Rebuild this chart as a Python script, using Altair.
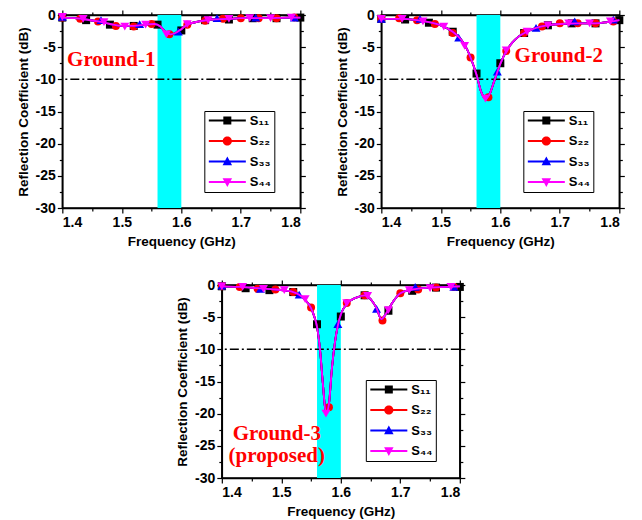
import altair as alt
import pandas as pd

SERIES = ["S₁₁", "S₂₂", "S₃₃", "S₄₄"]
COLORS = ["#000000", "#FF0000", "#0000FF", "#FF00FF"]
SHAPES = ["square", "circle", "triangle-up", "triangle-down"]

BAND = [1.56, 1.60]
THRESHOLD = [-10]
X_TICKS = [1.4, 1.45, 1.5, 1.55, 1.6, 1.65, 1.7, 1.75, 1.8]
Y_TICKS = [-30, -27.5, -25, -22.5, -20, -17.5, -15, -12.5, -10, -7.5, -5, -2.5, 0]

# marker frequencies of each series
F11 = [1.40, 1.44, 1.48, 1.52, 1.56, 1.60, 1.64, 1.68, 1.72, 1.76, 1.80]
F22 = [1.40, 1.43, 1.46, 1.49, 1.52, 1.55, 1.58, 1.61, 1.64, 1.67, 1.70, 1.73, 1.76, 1.79]
F33 = [1.40, 1.465, 1.53, 1.595, 1.66, 1.725, 1.79]
F44 = [1.40, 1.435, 1.47, 1.505, 1.54, 1.575, 1.61, 1.645, 1.68, 1.715, 1.75, 1.785]

# ---- Ground-1
G1_CURVE_F = [1.40, 1.42, 1.44, 1.46, 1.48, 1.50, 1.52, 1.54, 1.555, 1.565, 1.575, 1.582, 1.59, 1.60, 1.61, 1.63, 1.65, 1.68, 1.70, 1.74, 1.78, 1.80]
G1_CURVE_V = [-0.4, -0.5, -0.7, -1.0, -1.4, -1.7, -1.7, -1.5, -1.4, -1.8, -2.8, -3.0, -2.8, -2.2, -1.5, -1.0, -0.7, -0.6, -0.5, -0.5, -0.4, -0.4]
G1_S11 = [-0.4, -0.8, -1.5, -1.7, -1.5, -2.4, -0.8, -0.7, -0.5, -0.5, -0.4]
G1_S22 = [-0.4, -0.6, -1.0, -1.7, -1.8, -1.4, -3.0, -1.5, -0.9, -0.6, -0.5, -0.5, -0.5, -0.4]
G1_S33 = [-0.3, -0.8, -1.4, -2.6, -0.5, -0.4, -0.4]
G1_S44 = [-0.3, -0.6, -1.1, -1.8, -1.5, -3.0, -1.4, -0.8, -0.6, -0.5, -0.5, -0.4]

# ---- Ground-2
G2_CURVE_F = [1.40, 1.43, 1.46, 1.48, 1.50, 1.52, 1.53, 1.54, 1.55, 1.56, 1.568, 1.575, 1.582, 1.59, 1.60, 1.61, 1.62, 1.63, 1.645, 1.66, 1.68, 1.70, 1.73, 1.76, 1.78, 1.80]
G2_CURVE_V = [-0.6, -0.6, -0.8, -1.1, -1.6, -2.6, -3.4, -4.6, -6.6, -9.3, -12.0, -13.0, -12.3, -10.2, -7.6, -5.6, -4.3, -3.4, -2.6, -2.0, -1.6, -1.4, -1.3, -1.3, -1.1, -0.8]
G2_S11 = [-0.6, -0.7, -1.2, -2.6, -9.1, -7.5, -2.8, -1.6, -1.3, -1.3, -0.8]
G2_S22 = [-0.6, -0.5, -0.8, -1.4, -2.8, -6.6, -12.8, -5.6, -2.8, -1.8, -1.3, -1.3, -1.3, -1.0]
G2_S33 = [-0.6, -0.6, -3.5, -8.8, -2.0, -1.0, -0.7]
G2_S44 = [-0.6, -0.6, -1.0, -1.8, -4.8, -13.0, -5.5, -2.6, -1.6, -1.3, -1.3, -1.0]

# ---- Ground-3 (proposed)
G3_CURVE_F = [1.40, 1.43, 1.46, 1.49, 1.51, 1.52, 1.53, 1.54, 1.55, 1.555, 1.56, 1.565, 1.57, 1.575, 1.58, 1.585, 1.59, 1.595, 1.60, 1.61, 1.625, 1.64, 1.65, 1.66, 1.668, 1.675, 1.685, 1.70, 1.72, 1.75, 1.78, 1.80]
G3_CURVE_V = [-0.2, -0.3, -0.5, -0.7, -0.9, -1.1, -1.5, -2.3, -3.6, -4.8, -6.5, -10.0, -15.5, -20.0, -18.5, -13.0, -9.0, -6.3, -4.6, -2.9, -2.0, -1.6, -2.2, -3.6, -5.3, -4.6, -3.0, -1.3, -0.7, -0.4, -0.3, -0.2]
G3_S11 = [-0.2, -0.5, -0.8, -1.1, -6.1, -4.9, -1.6, -4.0, -0.9, -0.4, -0.3]
G3_S22 = [-0.2, -0.3, -0.6, -0.7, -1.1, -3.5, -19.0, -2.8, -1.6, -5.5, -1.3, -0.7, -0.4, -0.3]
G3_S33 = [-0.1, -0.6, -1.5, -6.1, -3.7, -0.3, -0.3]
G3_S44 = [-0.2, -0.3, -0.6, -0.8, -2.2, -20.0, -2.8, -1.7, -3.9, -0.8, -0.5, -0.3]

# legend symbols: a line with the marker in the middle (unit = 5 px)
LEGEND_PATHS = [
    "M-3.7,-0.2L3.7,-0.2L3.7,0.2L-3.7,0.2Z M-0.8,-0.8L0.8,-0.8L0.8,0.8L-0.8,0.8Z",
    "M-3.7,-0.2L3.7,-0.2L3.7,0.2L-3.7,0.2Z M-0.92,0A0.92,0.92,0,1,1,0.92,0A0.92,0.92,0,1,1,-0.92,0Z",
    "M-3.7,-0.2L3.7,-0.2L3.7,0.2L-3.7,0.2Z M0,-1.0L0.95,0.75L-0.95,0.75Z",
    "M-3.7,-0.2L3.7,-0.2L3.7,0.2L-3.7,0.2Z M0,1.0L-0.95,-0.75L0.95,-0.75Z",
]

X_MAJOR = "abs(datum.value*10 - round(datum.value*10)) < 0.001"
Y_MAJOR = "abs(datum.value % 5) < 0.001"
BOLD = "Liberation Sans"


def x_axis(orient, labels, title):
    kw = dict(orient=orient, values=X_TICKS, labels=labels, grid=False,
              tickSize={"condition": {"test": X_MAJOR, "value": 5}, "value": 3},
              title=title)
    if labels:
        kw["labelExpr"] = f"({X_MAJOR}) ? format(datum.value, '.1f') : ''"
    return alt.Axis(**kw)


def y_axis(orient, labels, title):
    kw = dict(orient=orient, values=Y_TICKS, labels=labels, grid=False,
              tickSize={"condition": {"test": Y_MAJOR, "value": 5}, "value": 3},
              title=title)
    if labels:
        kw["labelExpr"] = f"({Y_MAJOR}) ? '' + datum.value : ''"
    return alt.Axis(**kw)


def panel(curve_f, curve_v, marks, text, tx, ty, lx, ly):
    xs = alt.Scale(domain=[1.4, 1.8], nice=False, zero=False)
    ys = alt.Scale(domain=[-30, 0], nice=False, zero=False)

    band = alt.Chart(pd.DataFrame({"a": [BAND[0]], "b": [BAND[1]]})).mark_rect(
        color="#00FFFF", opacity=1).encode(
        x=alt.X("a:Q", scale=xs, axis=x_axis("top", False, None)), x2="b:Q")

    thr = alt.Chart(pd.DataFrame({"v": THRESHOLD})).mark_rule(
        color="black", strokeWidth=1.5, strokeDash=[9, 3, 2, 3]).encode(
        y=alt.Y("v:Q", scale=ys, axis=y_axis("right", False, None)))

    curve = pd.DataFrame({"f": curve_f, "v": curve_v})
    layers = [band, thr]
    freqs = [F11, F22, F33, F44]
    for i, (c, sh) in enumerate(zip(COLORS, SHAPES)):
        xa = x_axis("bottom", True, "Frequency (GHz)") if i == 0 else None
        ya = y_axis("left", True, "Reflection Coefficient (dB)") if i == 0 else None
        line = alt.Chart(curve).mark_line(color=c, strokeWidth=1.8, interpolate="monotone").encode(
            x=alt.X("f:Q", scale=xs, axis=xa), y=alt.Y("v:Q", scale=ys, axis=ya))
        pts = alt.Chart(pd.DataFrame({"f": freqs[i], "v": marks[i]})).mark_point(
            shape=sh, filled=True, size=64 if sh in ("square", "circle") else 80,
            color=c, opacity=1).encode(
            x=alt.X("f:Q", scale=xs, axis=None), y=alt.Y("v:Q", scale=ys, axis=None))
        layers += [line, pts]

    lab = alt.Chart(pd.DataFrame({"f": [tx], "v": [ty], "t": [text]})).mark_text(
        font="Liberation Serif", fontWeight="bold", fontSize=21, color="#FF0000",
        align="left" if "\n" not in text else "center", baseline="alphabetic",
        lineBreak="\n", lineHeight=22).encode(
        x=alt.X("f:Q", scale=xs, axis=None), y=alt.Y("v:Q", scale=ys, axis=None), text="t:N")
    layers.append(lab)

    leg = alt.Legend(orient="none", legendX=lx, legendY=ly, title=None,
                     labelFont=BOLD, labelFontWeight="bold", labelFontSize=13,
                     labelColor="black", strokeColor="black", fillColor="white",
                     padding=3, symbolStrokeWidth=0, symbolOffset=13.5, labelOffset=16,
                     rowPadding=6.5, symbolSize=100)
    legend_layer = alt.Chart(pd.DataFrame({"s": SERIES})).transform_filter("false").mark_point(
        filled=True, size=100, opacity=1).encode(
        color=alt.Color("s:N", scale=alt.Scale(domain=SERIES, range=COLORS), legend=leg),
        shape=alt.Shape("s:N", scale=alt.Scale(domain=SERIES, range=LEGEND_PATHS), legend=leg))
    layers.append(legend_layer)

    return alt.layer(*layers).properties(width=238, height=193)


p1 = panel(G1_CURVE_F, G1_CURVE_V, [G1_S11, G1_S22, G1_S33, G1_S44], "Ground-1", 1.408, -7.9, 142, 96)
p2 = panel(G2_CURVE_F, G2_CURVE_V, [G2_S11, G2_S22, G2_S33, G2_S44], "Ground-2", 1.624, -7.3, 142, 96)
p3 = panel(G3_CURVE_F, G3_CURVE_V, [G3_S11, G3_S22, G3_S33, G3_S44], "Ground-3\n(proposed)", 1.4924, -24.1, 144, 95)

top = alt.hconcat(p1, p2, spacing=27).resolve_scale(color="independent", shape="independent").resolve_legend(color="independent", shape="independent")
chart = alt.vconcat(top, p3, spacing=28, center=True).resolve_scale(
    color="independent", shape="independent").resolve_legend(
    color="independent", shape="independent").properties(
    padding={"left": 15, "top": 7, "right": 5, "bottom": 2}, background="white"
).configure_view(stroke="black", strokeWidth=1.5).configure_axis(
    labelFont=BOLD, labelFontWeight="bold", labelFontSize=14, labelColor="black",
    titleFont=BOLD, titleFontWeight="bold", titleFontSize=13.5, titleColor="black",
    tickColor="black", tickWidth=1.2, domainColor="black", domainWidth=1.5,
    labelPadding=2, titlePadding=5)

chart.save("out.html", embed_options={"renderer": "svg", "actions": False})
